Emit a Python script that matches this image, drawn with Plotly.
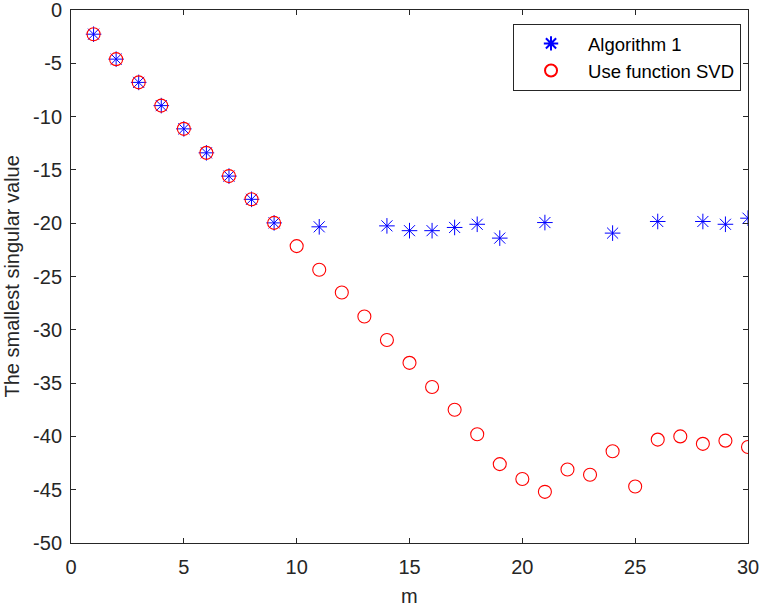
import plotly.graph_objects as go

m = list(range(1, 31))

# Algorithm 1 (None where no point is drawn)
alg1 = [-2.27, -4.61, -6.79, -8.97, -11.15, -13.4, -15.58, -17.76, -19.97, None,
        -20.34, None, None, -20.25, -20.7, -20.7, -20.4, -20.1, -21.4, None,
        -19.94, None, None, -20.93, None, -19.84, None, -19.84, -20.1, -19.53]

# Use function SVD
svd = [-2.27, -4.61, -6.79, -8.97, -11.15, -13.4, -15.58, -17.76, -19.97, -22.15,
       -24.36, -26.5, -28.75, -30.95, -33.1, -35.36, -37.5, -39.8, -42.6, -44.0,
       -45.2, -43.1, -43.6, -41.4, -44.7, -40.3, -40.0, -40.7, -40.4, -41.0]

xticks = [0, 5, 10, 15, 20, 25, 30]
yticks = [0, -5, -10, -15, -20, -25, -30, -35, -40, -45, -50]
ytick_labels = ['0', '-5', '-10', '-15', '-20', '-25', '-30', '-35', '-40', '-45', '-50']

fig = go.Figure()

fig.add_trace(go.Scatter(x=m, y=alg1, mode='markers', name='Algorithm 1',
              marker=dict(symbol='asterisk-open', size=13, color='blue',
                          line=dict(color='blue', width=1))))
fig.add_trace(go.Scatter(x=m, y=svd, mode='markers', name='Use function SVD',
              marker=dict(symbol='circle-open', size=13, color='red',
                          line=dict(color='red', width=1.1))))

axis_style = dict(showgrid=False, zeroline=False, showline=True, linecolor='#262626',
                  linewidth=1, mirror='ticks', ticks='inside', ticklen=5,
                  tickcolor='#262626', automargin=False, ticklabeloverflow='allow',
                  tickfont=dict(size=20, color='#262626'))

fig.update_xaxes(range=[0, 30], tickvals=xticks, ticklabelstandoff=6, **axis_style)
fig.update_yaxes(range=[-50, 0], tickvals=yticks, ticktext=ytick_labels,
                 ticklabelstandoff=4, **axis_style)

# axis titles
fig.add_annotation(text='m', xref='paper', yref='paper', x=0.5, y=-53 / 533,
                   yanchor='middle', showarrow=False, font=dict(size=20, color='#262626'))
fig.add_annotation(text='The smallest singular value', xref='paper', yref='paper',
                   x=-60 / 677, y=0.5, xanchor='center', textangle=-90,
                   showarrow=False, font=dict(size=20, color='#262626'))

fig.update_layout(width=762, height=607, plot_bgcolor='white', paper_bgcolor='white',
                  font=dict(family='Liberation Sans, Arial', color='#262626'),
                  margin=dict(l=71, r=14, t=10, b=64),
                  legend=dict(x=0.9897, y=0.974, xanchor='right', yanchor='top',
                              bordercolor='#262626', borderwidth=1, bgcolor='white',
                              font=dict(size=18.5, color='black'),
                              itemsizing='constant', itemwidth=64))

# drop the default 8px body margin so the figure fills the window
fig.write_html("out.html", config={'displayModeBar': False},
               post_script="document.body.style.margin='0';")
